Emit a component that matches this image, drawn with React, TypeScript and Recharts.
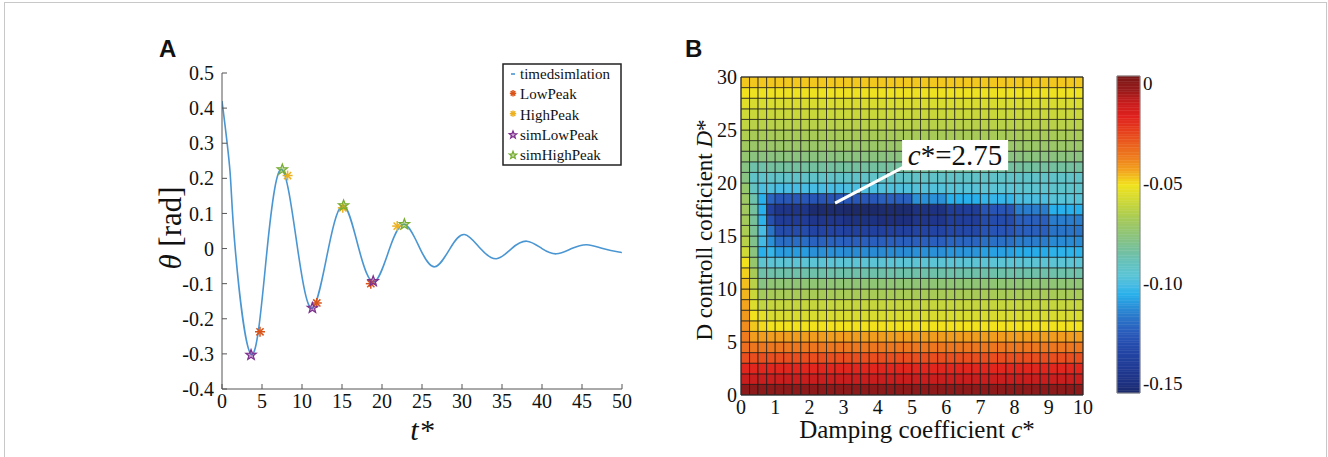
import React from 'react';
import {
  ComposedChart,
  Line,
  Scatter,
  XAxis,
  YAxis,
  ReferenceArea,
  ReferenceLine,
} from 'recharts';

// ---------- panel A: damped response ----------
const curveT = [0, 1.0, 1.65, 3.7, 5.65, 7.5, 9.45, 11.3, 13.3, 15.2, 17.1, 19.0, 20.95, 22.8, 24.75, 26.6, 28.5, 30.3, 32.3, 34.3, 36.2, 38.1, 40.0, 41.8, 43.7, 45.6, 47.6, 49.6, 50];
const curveTheta = [0.42, 0.22, 0, -0.302, 0, 0.225, 0, -0.17, 0, 0.123, 0, -0.095, 0, 0.069, 0, -0.052, 0, 0.04, 0, -0.029, 0, 0.021, 0, -0.015, 0, 0.011, 0, -0.01, -0.01];

const lowPeakT = [4.75, 11.85, 18.6];
const lowPeakTheta = [-0.237, -0.155, -0.1];
const highPeakT = [8.2, 15.1, 21.9];
const highPeakTheta = [0.208, 0.116, 0.064];
const simLowPeakT = [3.63, 11.3, 18.9];
const simLowPeakTheta = [-0.303, -0.169, -0.093];
const simHighPeakT = [7.54, 15.2, 22.8];
const simHighPeakTheta = [0.225, 0.123, 0.069];

const tTicks = [0, 5, 10, 15, 20, 25, 30, 35, 40, 45, 50];
const thetaTicks = [-0.4, -0.3, -0.2, -0.1, 0, 0.1, 0.2, 0.3, 0.4, 0.5];

// ---------- panel B: cost map over (c*, D*) ----------
const cTicks = [0, 1, 2, 3, 4, 5, 6, 7, 8, 9, 10];
const dTicks = [0, 5, 10, 15, 20, 25, 30];
const colorbarTicks = [0, -0.05, -0.1, -0.15];

// value of each D* row (D in [i, i+1]) for c* >= 1
const rowBase = [
  -0.001, -0.010, -0.018, -0.027, -0.036, -0.043, -0.051, -0.057, -0.061, -0.068,
  -0.075, -0.086, -0.096, -0.106, -0.118, -0.133, -0.145, -0.150, -0.125, -0.100,
  -0.093, -0.084, -0.077, -0.072, -0.068, -0.064, -0.060, -0.057, -0.052, -0.048,
];
// the three leftmost columns (c* 0-0.25, 0.25-0.5, 0.5-0.75)
const col0 = [
  -0.001, -0.010, -0.018, -0.027, -0.034, -0.037, -0.040, -0.042, -0.044, -0.046,
  -0.047, -0.049, -0.051, -0.059, -0.064, -0.067, -0.069, -0.070, -0.071, -0.073,
  -0.078, -0.078, -0.074, -0.070, -0.066, -0.062, -0.059, -0.055, -0.051, -0.048,
];
const col1 = [
  -0.001, -0.010, -0.018, -0.027, -0.036, -0.043, -0.048, -0.051, -0.056, -0.060,
  -0.064, -0.068, -0.073, -0.077, -0.080, -0.082, -0.083, -0.084, -0.087, -0.091,
  -0.093, -0.086, -0.077, -0.072, -0.068, -0.064, -0.060, -0.057, -0.052, -0.048,
];
const col2 = [
  -0.001, -0.010, -0.018, -0.027, -0.036, -0.043, -0.050, -0.054, -0.062, -0.069,
  -0.078, -0.086, -0.095, -0.106, -0.102, -0.101, -0.105, -0.106, -0.106, -0.100,
  -0.094, -0.086, -0.077, -0.072, -0.068, -0.064, -0.060, -0.057, -0.052, -0.048,
];
// rows 13..19 vary along c*: [c 0.75-1, 1-2, 2-3, ..., 9-10]
const bandRow13 = [-0.104, -0.110, -0.112, -0.113, -0.113, -0.112, -0.111, -0.109, -0.107, -0.105];
const bandRow14 = [-0.112, -0.120, -0.123, -0.124, -0.124, -0.124, -0.122, -0.119, -0.116, -0.113];
const bandRow15 = [-0.118, -0.132, -0.136, -0.138, -0.138, -0.136, -0.133, -0.128, -0.124, -0.118];
const bandRow16 = [-0.130, -0.142, -0.147, -0.150, -0.151, -0.147, -0.140, -0.132, -0.124, -0.116];
const bandRow17 = [-0.138, -0.148, -0.154, -0.155, -0.154, -0.150, -0.141, -0.128, -0.116, -0.106];
const bandRow18 = [-0.122, -0.127, -0.128, -0.127, -0.124, -0.112, -0.106, -0.104, -0.100, -0.097];
const bandRow19 = [-0.099, -0.101, -0.101, -0.100, -0.099, -0.098, -0.097, -0.096, -0.095, -0.094];
const bandRows: Record<number, number[]> = {
  13: bandRow13, 14: bandRow14, 15: bandRow15, 16: bandRow16,
  17: bandRow17, 18: bandRow18, 19: bandRow19,
};

const COLS = 40;
const ROWS = 30;
const C_STEP = 0.25;
const CB_MIN = -0.155;
const CB_MAX = 0.0035;

// colormap (value -> colour)
const colorStops: [number, string][] = [
  [0.0035, '#7a1818'], [-0.004, '#9a1c1c'], [-0.010, '#c81e1e'], [-0.017, '#e0221e'],
  [-0.024, '#e6401e'], [-0.030, '#ea5c1e'], [-0.037, '#ee7c1e'], [-0.044, '#f2a41e'],
  [-0.048, '#f2c81e'], [-0.051, '#f2e21e'], [-0.057, '#d8dc30'], [-0.063, '#bcd244'],
  [-0.069, '#a4ca5c'], [-0.076, '#8ec47a'], [-0.083, '#78c09a'], [-0.090, '#66c2bc'],
  [-0.096, '#5cc4d4'], [-0.101, '#48bce2'], [-0.106, '#28b0ec'], [-0.112, '#2a90d8'],
  [-0.118, '#2a74c8'], [-0.125, '#2a5cbc'], [-0.133, '#2448a8'], [-0.142, '#203c96'],
  [-0.150, '#1e3282'], [-0.155, '#1c2a6a'],
];

const hex = (h: string) => [1, 3, 5].map((i) => parseInt(h.slice(i, i + 2), 16));

function colorFor(v: number) {
  if (v >= colorStops[0][0]) return colorStops[0][1];
  for (let i = 0; i < colorStops.length - 1; i++) {
    const [v0, c0] = colorStops[i];
    const [v1, c1] = colorStops[i + 1];
    if (v >= v1) {
      const k = (v0 - v) / (v0 - v1);
      const a = hex(c0);
      const b = hex(c1);
      const m = a.map((x, j) => Math.round(x + (b[j] - x) * k));
      return `rgb(${m[0]},${m[1]},${m[2]})`;
    }
  }
  return colorStops[colorStops.length - 1][1];
}

function cellValue(row: number, col: number) {
  if (col === 0) return col0[row];
  if (col === 1) return col1[row];
  if (col === 2) return col2[row];
  const band = bandRows[row];
  if (band) return band[col === 3 ? 0 : Math.floor(col * C_STEP)];
  return rowBase[row];
}

const cells: { c1: number; c2: number; d1: number; d2: number; v: number }[] = [];
for (let r = 0; r < ROWS; r++) {
  for (let k = 0; k < COLS; k++) {
    cells.push({ c1: k * C_STEP, c2: (k + 1) * C_STEP, d1: r, d2: r + 1, v: cellValue(r, k) });
  }
}

const colorbarSteps = Array.from({ length: 120 }, (_, i) => {
  const hi = CB_MAX - ((CB_MAX - CB_MIN) * i) / 120;
  const lo = CB_MAX - ((CB_MAX - CB_MIN) * (i + 1)) / 120;
  return { hi, lo, color: colorFor((hi + lo) / 2) };
});

const curve = curveT.map((t, i) => ({ t, theta: curveTheta[i] }));
const toPts = (ts: number[], ys: number[]) => ts.map((t, i) => ({ t, theta: ys[i] }));
const lowPeak = toPts(lowPeakT, lowPeakTheta);
const highPeak = toPts(highPeakT, highPeakTheta);
const simLowPeak = toPts(simLowPeakT, simLowPeakTheta);
const simHighPeak = toPts(simHighPeakT, simHighPeakTheta);

const SERIF = '"Liberation Serif", "Times New Roman", serif';
const SANS = '"Liberation Sans", Arial, sans-serif';

const C_LOW = '#D95319';
const C_HIGH = '#EDB120';
const C_SIMLOW = '#7E2F8E';
const C_SIMHIGH = '#77AC30';
const C_LINE = '#4a96d2';

function Asterisk({ cx, cy, color, r = 5 }: { cx: number; cy: number; color: string; r?: number }) {
  const d = r * 0.72;
  return (
    <g stroke={color} strokeWidth={1.5}>
      <line x1={cx - r} y1={cy} x2={cx + r} y2={cy} />
      <line x1={cx} y1={cy - r} x2={cx} y2={cy + r} />
      <line x1={cx - d} y1={cy - d} x2={cx + d} y2={cy + d} />
      <line x1={cx - d} y1={cy + d} x2={cx + d} y2={cy - d} />
    </g>
  );
}

function Pentagram({ cx, cy, color, r = 5.5 }: { cx: number; cy: number; color: string; r?: number }) {
  const pts: string[] = [];
  for (let i = 0; i < 10; i++) {
    const rad = i % 2 === 0 ? r : r * 0.42;
    const a = -Math.PI / 2 + (i * Math.PI) / 5;
    pts.push(`${cx + rad * Math.cos(a)},${cy + rad * Math.sin(a)}`);
  }
  return <polygon points={pts.join(' ')} fill={color} fillOpacity={0.45} stroke={color} strokeWidth={1.2} />;
}

function Legend() {
  const rows = [
    { label: 'timedsimlation', kind: 'line', color: C_LINE },
    { label: 'LowPeak', kind: 'ast', color: C_LOW },
    { label: 'HighPeak', kind: 'ast', color: C_HIGH },
    { label: 'simLowPeak', kind: 'star', color: C_SIMLOW },
    { label: 'simHighPeak', kind: 'star', color: C_SIMHIGH },
  ];
  return (
    <svg width={120} height={103} style={{ position: 'absolute', left: 502, top: 63 }}>
      <rect x={1} y={1} width={118} height={101} fill="#fff" stroke="#222" strokeWidth={1.5} />
      {rows.map((r, i) => {
        const y = 11 + i * 20.3;
        return (
          <g key={r.label}>
            {r.kind === 'line' && <line x1={9} x2={13} y1={y} y2={y} stroke={r.color} strokeWidth={1.6} />}
            {r.kind === 'ast' && <Asterisk cx={11} cy={y - 1} color={r.color} r={3.2} />}
            {r.kind === 'star' && <Pentagram cx={11} cy={y} color={r.color} r={4} />}
            <text x={18} y={y + 5} fontSize={15} fontFamily={SERIF} fill="#111">{r.label}</text>
          </g>
        );
      })}
    </svg>
  );
}

export default function App() {
  const tickA = { fill: '#111', fontSize: 20, fontFamily: SERIF };
  return (
    <div style={{ position: 'absolute', left: 0, top: 0, width: 1328, height: 457, background: '#fff', overflow: 'hidden', fontFamily: SERIF }}>
      <div style={{ position: 'absolute', left: 4, top: 2, width: 1323, height: 480, border: '1px solid #c8c8c8', boxSizing: 'border-box' }} />

      {/* panel A */}
      <div style={{ position: 'absolute', left: 140, top: 40 }}>
        <ComposedChart width={500} height={420} margin={{ top: 33, right: 18, left: 0, bottom: 0 }}>
          <XAxis
            type="number"
            dataKey="t"
            domain={[0, 50]}
            ticks={tTicks}
            height={71}
            tickSize={-5}
            tickMargin={10}
            stroke="#555"
            tick={tickA}
            allowDataOverflow
          />
          <YAxis
            type="number"
            dataKey="theta"
            domain={[-0.4, 0.5]}
            ticks={thetaTicks}
            width={82}
            tickSize={-5}
            tickMargin={13}
            stroke="#555"
            tick={tickA}
            tickFormatter={(v: number) => (v === 0 ? '0' : v.toFixed(1))}
            allowDataOverflow
          />
          <Line data={curve} dataKey="theta" type="natural" stroke={C_LINE} strokeWidth={1.6} dot={false} isAnimationActive={false} />
          <Scatter data={lowPeak} isAnimationActive={false} shape={(p: any) => <Asterisk cx={p.cx} cy={p.cy} color={C_LOW} />} />
          <Scatter data={highPeak} isAnimationActive={false} shape={(p: any) => <Asterisk cx={p.cx} cy={p.cy} color={C_HIGH} />} />
          <Scatter data={simLowPeak} isAnimationActive={false} shape={(p: any) => <Pentagram cx={p.cx} cy={p.cy} color={C_SIMLOW} />} />
          <Scatter data={simHighPeak} isAnimationActive={false} shape={(p: any) => <Pentagram cx={p.cx} cy={p.cy} color={C_SIMHIGH} />} />
        </ComposedChart>
      </div>
      <Legend />

      {/* panel B heat map */}
      <div style={{ position: 'absolute', left: 680, top: 50 }}>
        <ComposedChart width={420} height={400} margin={{ top: 27, right: 17, left: 0, bottom: 0 }}>
          <XAxis
            type="number"
            dataKey="c"
            domain={[0, 10]}
            ticks={cTicks}
            height={55}
            tickLine={false}
            axisLine={false}
            tickSize={0}
            tickMargin={5}
            tick={tickA}
          />
          <YAxis
            type="number"
            dataKey="d"
            domain={[0, 30]}
            ticks={dTicks}
            width={61}
            tickLine={false}
            axisLine={false}
            tickSize={0}
            tickMargin={4}
            tick={tickA}
          />
          <Scatter data={[{ c: 0, d: 0 }, { c: 10, d: 30 }]} isAnimationActive={false} shape={() => <g />} />
          {cells.map((cell, i) => (
            <ReferenceArea
              key={i}
              x1={cell.c1}
              x2={cell.c2}
              y1={cell.d1}
              y2={cell.d2}
              fill={colorFor(cell.v)}
              fillOpacity={1}
              stroke="#141414"
              strokeWidth={0.8}
              strokeOpacity={0.85}
            />
          ))}
          <ReferenceArea x1={0} x2={10} y1={0} y2={30} fill="none" stroke="#333" strokeWidth={1} />
          <ReferenceLine segment={[{ x: 2.75, y: 18.1 }, { x: 4.75, y: 21.5 }]} stroke="#fff" strokeWidth={3} />
          <ReferenceArea
            x1={4.71}
            x2={7.81}
            y1={21.2}
            y2={24.05}
            fill="#fff"
            fillOpacity={1}
            stroke="none"
            label={(p: any) => {
              const vb = p.viewBox;
              return (
                <text x={vb.x + vb.width / 2} y={vb.y + vb.height / 2 + 10} textAnchor="middle" fontSize={29} fontFamily={SERIF} fill="#111">
                  <tspan fontStyle="italic">c</tspan>*=2.75
                </text>
              );
            }}
          />
        </ComposedChart>
      </div>

      {/* colour bar */}
      <div style={{ position: 'absolute', left: 1100, top: 60 }}>
        <ComposedChart width={100} height={350} margin={{ top: 16, right: 0, left: 17, bottom: 17 }}>
          <XAxis type="number" dataKey="x" domain={[0, 1]} hide />
          <YAxis
            type="number"
            dataKey="y"
            orientation="right"
            domain={[CB_MIN, CB_MAX]}
            ticks={colorbarTicks}
            width={60}
            tickLine={false}
            axisLine={false}
            tickSize={0}
            tickMargin={3}
            tick={{ fill: '#111', fontSize: 19, fontFamily: SERIF }}
            tickFormatter={(v: number) => (v === 0 ? '0' : v.toFixed(2))}
            allowDataOverflow
          />
          <Scatter data={[{ x: 0, y: CB_MIN }, { x: 1, y: CB_MAX }]} isAnimationActive={false} shape={() => <g />} />
          {colorbarSteps.map((s, i) => (
            <ReferenceArea key={i} x1={0} x2={1} y1={s.lo} y2={s.hi} fill={s.color} fillOpacity={1} stroke={s.color} strokeWidth={0.5} />
          ))}
          <ReferenceArea x1={0} x2={1} y1={CB_MIN} y2={CB_MAX} fill="none" stroke="#8a8a8a" strokeWidth={1} />
        </ComposedChart>
      </div>

      {/* titles and panel letters */}
      <svg width={1328} height={457} style={{ position: 'absolute', left: 0, top: 0, pointerEvents: 'none' }}>
        <text x={159} y={57} fontFamily={SANS} fontWeight="bold" fontSize={24} fill="#111">A</text>
        <text x={685} y={57} fontFamily={SANS} fontWeight="bold" fontSize={24} fill="#111">B</text>
        <text x={422} y={440} textAnchor="middle" fontFamily={SERIF} fontSize={30} fontStyle="italic" fill="#111">t*</text>
        <text transform="translate(181,228) rotate(-90)" textAnchor="middle" fontFamily={SERIF} fontSize={31} fill="#111">
          <tspan fontStyle="italic">θ</tspan> [rad]
        </text>
        <text x={917} y={438} textAnchor="middle" fontFamily={SERIF} fontSize={25} fill="#111">
          Damping coefficient <tspan fontStyle="italic">c</tspan>*
        </text>
        <text transform="translate(712,230) rotate(-90)" textAnchor="middle" fontFamily={SERIF} fontSize={23} fill="#111">
          D controll cofficient <tspan fontStyle="italic">D</tspan>*
        </text>
      </svg>
    </div>
  );
}
